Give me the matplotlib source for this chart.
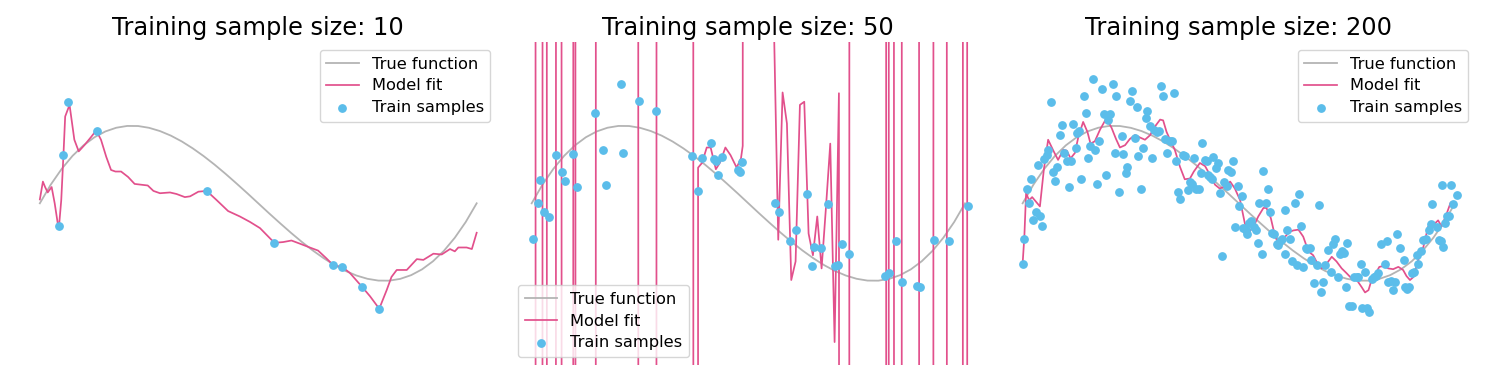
import matplotlib.pyplot as plt
import numpy as np

# true function
true_x = [0.0, 0.025, 0.05, 0.075, 0.1, 0.125, 0.15, 0.175, 0.2, 0.225, 0.25,
          0.275, 0.3, 0.325, 0.35, 0.375, 0.4, 0.425, 0.45, 0.475, 0.5,
          0.525, 0.55, 0.575, 0.6, 0.625, 0.65, 0.675, 0.7, 0.725, 0.75,
          0.775, 0.8, 0.825, 0.85, 0.875, 0.9, 0.925, 0.95, 0.975, 1.0]
true_y = [0.0, 0.241, 0.444, 0.613, 0.748, 0.852, 0.927, 0.975, 0.998, 0.997, 0.974,
          0.932, 0.873, 0.798, 0.709, 0.609, 0.499, 0.381, 0.257, 0.130, 0.0,
          -0.130, -0.257, -0.381, -0.499, -0.609, -0.709, -0.798, -0.873, -0.932, -0.974,
          -0.997, -0.998, -0.975, -0.927, -0.852, -0.748, -0.613, -0.444, -0.241, 0.0]

sample_sizes = [10, 50, 200]

# --- sample size 10 ---
train10_x = [0.065, 0.130, 0.053, 0.044, 0.382, 0.537, 0.672, 0.692, 0.738, 0.777]
train10_y = [1.31, 0.93, 0.62, -0.29, 0.16, -0.51, -0.80, -0.82, -1.08, -1.36]
fit10_x = [0.0, 0.007, 0.012, 0.018, 0.027, 0.034, 0.041, 0.044, 0.049, 0.054,
           0.058, 0.068, 0.079, 0.089, 0.102, 0.118, 0.129, 0.140, 0.152, 0.163,
           0.173, 0.186, 0.202, 0.217, 0.232, 0.247, 0.260, 0.275, 0.298, 0.313,
           0.332, 0.344, 0.363, 0.382, 0.405, 0.431, 0.458, 0.481, 0.504, 0.537,
           0.557, 0.576, 0.595, 0.618, 0.637, 0.656, 0.672, 0.692, 0.710, 0.738,
           0.756, 0.777, 0.794, 0.805, 0.817, 0.840, 0.863, 0.878, 0.901, 0.920,
           0.939, 0.950, 0.958, 0.977, 0.989, 1.0]
fit10_y = [0.05, 0.28, 0.21, 0.14, 0.21, 0.00, -0.26, -0.29, 0.04, 0.62,
           1.12, 1.27, 0.82, 0.67, 0.75, 0.86, 0.94, 0.82, 0.60, 0.43,
           0.41, 0.41, 0.34, 0.25, 0.24, 0.23, 0.16, 0.13, 0.14, 0.12,
           0.08, 0.09, 0.15, 0.16, 0.04, -0.10, -0.17, -0.24, -0.32, -0.51,
           -0.50, -0.48, -0.52, -0.57, -0.61, -0.71, -0.80, -0.82, -0.90, -1.08,
           -1.20, -1.36, -1.12, -0.95, -0.86, -0.86, -0.72, -0.73, -0.65, -0.66,
           -0.59, -0.62, -0.57, -0.57, -0.59, -0.38]

# --- sample size 50 ---
train50_x = [0.004, 0.014, 0.019, 0.029, 0.041, 0.055, 0.069, 0.077, 0.095, 0.105,
             0.146, 0.165, 0.171, 0.206, 0.211, 0.247, 0.288, 0.369, 0.384, 0.394,
             0.413, 0.420, 0.425, 0.429, 0.440, 0.475, 0.481, 0.485, 0.561, 0.571,
             0.596, 0.610, 0.636, 0.646, 0.652, 0.668, 0.683, 0.700, 0.708, 0.717,
             0.733, 0.815, 0.825, 0.840, 0.855, 0.890, 0.895, 0.929, 0.962, 1.006]
train50_y = [-0.46, 0.00, 0.30, -0.11, -0.18, 0.62, 0.41, 0.29, 0.64, 0.21,
             1.16, 0.69, 0.24, 1.54, 0.65, 1.32, 1.19, 0.61, 0.16, 0.58,
             0.78, 0.57, 0.55, 0.37, 0.60, 0.43, 0.40, 0.53, 0.01, -0.11,
             -0.48, -0.35, 0.12, -0.81, -0.56, -0.58, -0.01, -0.81, -0.80, -0.53,
             -0.65, -0.94, -0.90, -0.49, -1.02, -1.07, -1.08, -0.47, -0.49, -0.04]
# the fit shoots far off the plot (+/-40) between the visible stretches
fit50_x = [0.000, 0.008, 0.010, 0.024, 0.026, 0.034, 0.036, 0.055, 0.057, 0.068,
           0.070, 0.095, 0.097, 0.100, 0.102, 0.147, 0.149, 0.245, 0.247, 0.287,
           0.289, 0.372, 0.374, 0.383, 0.384, 0.393, 0.404, 0.413, 0.425, 0.435,
           0.447, 0.459, 0.473, 0.483, 0.487, 0.490, 0.549, 0.559, 0.569, 0.579,
           0.589, 0.599, 0.609, 0.619, 0.629, 0.639, 0.649, 0.659, 0.669, 0.679,
           0.689, 0.699, 0.709, 0.712, 0.732, 0.734, 0.817, 0.819, 0.823, 0.825,
           0.835, 0.837, 0.853, 0.855, 0.893, 0.895, 0.926, 0.928, 0.957, 0.959,
           0.994, 0.996, 1.004, 1.006]
fit50_y = [40, 40, -40, -40, 40, 40, -40, -40, 40, 40,
           -40, -40, 40, 40, -40, -40, 40, 40, -40, -40,
           40, 40, -40, -40, 0.46, 0.52, 0.72, 0.72, 0.44, 0.53,
           0.72, 0.62, 0.46, 0.58, 0.74, 40, 40, 2.3, -0.47, 1.43,
           1.03, -0.99, -0.75, 1.27, 1.31, -0.39, -0.67, -0.17, -0.84, -0.06,
           0.77, -1.79, 1.42, -40, -40, 40, 40, -40, -40, 40,
           40, -40, -40, 40, 40, -40, -40, 40, 40, -40,
           -40, 40, 40, -40]

# --- sample size 200 ---
train200_x = [0.000, 0.004, 0.009, 0.015, 0.019, 0.025, 0.030, 0.036, 0.040, 0.044,
              0.050, 0.056, 0.059, 0.065, 0.071, 0.075, 0.080, 0.086, 0.090, 0.096,
              0.102, 0.107, 0.112, 0.117, 0.123, 0.126, 0.131, 0.136, 0.142, 0.146,
              0.152, 0.156, 0.162, 0.167, 0.173, 0.177, 0.183, 0.188, 0.193, 0.197,
              0.202, 0.208, 0.214, 0.217, 0.223, 0.229, 0.233, 0.238, 0.242, 0.248,
              0.253, 0.259, 0.264, 0.268, 0.274, 0.279, 0.285, 0.288, 0.295, 0.299,
              0.305, 0.310, 0.315, 0.319, 0.324, 0.330, 0.335, 0.341, 0.345, 0.349,
              0.355, 0.360, 0.365, 0.370, 0.376, 0.383, 0.386, 0.391, 0.396, 0.402,
              0.408, 0.412, 0.416, 0.421, 0.426, 0.429, 0.433, 0.437, 0.441, 0.447,
              0.453, 0.456, 0.462, 0.466, 0.472, 0.476, 0.482, 0.487, 0.491, 0.497,
              0.501, 0.507, 0.510, 0.516, 0.520, 0.524, 0.529, 0.534, 0.539, 0.544,
              0.547, 0.554, 0.557, 0.562, 0.567, 0.572, 0.577, 0.581, 0.588, 0.591,
              0.595, 0.601, 0.607, 0.608, 0.612, 0.618, 0.624, 0.629, 0.634, 0.639,
              0.644, 0.649, 0.655, 0.658, 0.665, 0.668, 0.675, 0.680, 0.685, 0.690,
              0.694, 0.699, 0.706, 0.713, 0.719, 0.722, 0.730, 0.734, 0.738, 0.744,
              0.747, 0.751, 0.755, 0.761, 0.767, 0.773, 0.776, 0.782, 0.786, 0.792,
              0.796, 0.802, 0.807, 0.813, 0.817, 0.823, 0.830, 0.837, 0.842, 0.846,
              0.851, 0.857, 0.861, 0.867, 0.873, 0.881, 0.884, 0.888, 0.894, 0.901,
              0.906, 0.911, 0.915, 0.921, 0.927, 0.933, 0.939, 0.944, 0.948, 0.958,
              0.963, 0.967, 0.973, 0.978, 0.982, 0.987, 0.969, 0.990, 0.996, 1.004]
train200_y = [-0.78, -0.46, 0.18, 0.00, 0.31, -0.22, -0.11, 0.50, -0.17, -0.29,
              0.57, 0.62, 0.69, 1.31, 0.41, 0.29, 0.47, 0.88, 1.01, 0.65,
              0.54, 0.21, 0.54, 1.02, 0.71, 0.91, 0.93, 0.31, 1.38, 1.16,
              0.58, 0.74, 1.60, 0.69, 0.25, 0.81, 1.47, 1.15, 0.37, 1.08,
              1.15, 1.54, 0.65, 1.38, 0.15, 0.87, 0.64, 0.39, 0.47, 1.32,
              1.45, 0.84, 1.24, 0.61, 0.18, 0.71, 1.10, 1.19, 1.00, 0.58,
              0.94, 0.92, 0.93, 1.51, 1.38, 0.83, 0.65, 0.80, 0.80, 1.42,
              0.55, 0.15, 0.05, 0.62, 0.61, 0.17, 0.27, 0.25, 0.58, 0.19,
              0.18, 0.39, 0.78, 0.56, 0.54, 0.37, 0.34, 0.31, 0.60, 0.45,
              0.52, 0.13, -0.68, 0.27, 0.22, 0.43, 0.40, 0.54, -0.30, 0.22,
              -0.03, 0.09, -0.32, -0.35, -0.40, -0.25, -0.23, -0.30, -0.35, -0.51,
              0.01, -0.65, 0.42, 0.01, 0.18, -0.11, -0.38, -0.40, -0.52, -0.54,
              -0.49, -0.46, -0.66, -0.09, -0.35, -0.46, -0.74, 0.01, -0.80, 0.12,
              -0.29, -0.82, -0.58, -0.59, -0.58, -0.73, -1.03, -0.80, -0.02, -1.15,
              -1.01, -0.80, -0.60, -0.88, -0.53, -0.46, -0.95, -0.65, -0.62, -0.64,
              -1.08, -0.51, -1.32, -1.32, -0.95, -0.95, -0.95, -0.78, -1.35, -0.89,
              -1.35, -1.40, -0.98, -0.95, -0.94, -0.90, -0.52, -0.78, -0.49, -1.02,
              -1.00, -1.12, -1.02, -0.40, -0.58, -0.73, -1.08, -1.10, -1.08, -0.90,
              -0.88, -0.67, -0.78, -0.62, -0.47, -0.46, -0.34, -0.27, -0.01, -0.31,
              -0.47, -0.49, -0.56, -0.26, -0.17, -0.16, 0.24, 0.24, -0.01, 0.11]
fit200_x = [0.000, 0.004, 0.008, 0.015, 0.022, 0.031, 0.040, 0.049, 0.059, 0.071,
            0.082, 0.094, 0.102, 0.111, 0.121, 0.129, 0.140, 0.150, 0.157, 0.167,
            0.179, 0.194, 0.206, 0.216, 0.225, 0.237, 0.248, 0.260, 0.271, 0.283,
            0.295, 0.306, 0.318, 0.325, 0.333, 0.341, 0.352, 0.364, 0.375, 0.387,
            0.396, 0.410, 0.422, 0.433, 0.445, 0.456, 0.468, 0.480, 0.491, 0.503,
            0.514, 0.524, 0.534, 0.545, 0.557, 0.564, 0.574, 0.584, 0.594, 0.604,
            0.617, 0.626, 0.638, 0.649, 0.661, 0.672, 0.684, 0.692, 0.703, 0.715,
            0.726, 0.738, 0.749, 0.761, 0.773, 0.784, 0.792, 0.800, 0.807, 0.817,
            0.825, 0.834, 0.846, 0.857, 0.869, 0.880, 0.888, 0.896, 0.904, 0.915,
            0.927, 0.938, 0.950, 0.961, 0.969, 0.981, 0.990, 1.000]
fit200_y = [-0.78, -0.43, 0.13, 0.04, 0.08, 0.02, -0.04, 0.43, 0.82, 0.68,
            0.56, 0.69, 0.68, 0.58, 0.65, 0.86, 1.05, 0.92, 0.77, 0.80,
            0.95, 1.10, 0.97, 0.83, 0.72, 0.75, 0.83, 0.88, 0.85, 0.82,
            0.88, 0.99, 1.08, 1.07, 0.92, 0.82, 0.69, 0.47, 0.31, 0.32,
            0.41, 0.52, 0.48, 0.37, 0.24, 0.19, 0.22, 0.28, 0.19, 0.04,
            -0.26, -0.37, -0.30, -0.17, -0.06, -0.06, -0.19, -0.43, -0.54, -0.45,
            -0.37, -0.35, -0.34, -0.43, -0.62, -0.67, -0.80, -0.84, -0.78, -0.69,
            -0.75, -0.84, -0.90, -0.97, -0.99, -1.08, -1.15, -1.12, -0.99, -0.90,
            -0.82, -0.81, -0.84, -0.85, -0.82, -0.86, -0.94, -0.99, -0.95, -0.73,
            -0.56, -0.30, -0.28, -0.22, -0.30, -0.13, 0.01, -0.04]

panels = [
    (train10_x, train10_y, fit10_x, fit10_y, 'upper right'),
    (train50_x, train50_y, fit50_x, fit50_y, 'lower left'),
    (train200_x, train200_y, fit200_x, fit200_y, 'upper right'),
]

W, H = 1496, 390
fig = plt.figure(figsize=(W / 100, H / 100), dpi=100)

# axes boxes in pixels (left, width); all share top 42 / bottom 365
boxes = [(18, 480.5), (510, 476.7), (1001, 475.6)]
top_px, bot_px = 42, 365

for (tx, ty, fx, fy, loc), n, (left, width) in zip(panels, sample_sizes, boxes):
    ax = fig.add_axes([left / W, (H - bot_px) / H, width / W, (bot_px - top_px) / H])
    ax.plot(true_x, true_y, color='#b4b4b4', lw=1.3, label='True function')
    ax.plot(fx, fy, color='#e2508c', lw=1.25, label='Model fit')
    ax.scatter(tx, ty, s=28, color='#5bbdea', zorder=3, label='Train samples')
    ax.set_xlim(-0.05, 1.05)
    ax.set_ylim(-2.086, 2.081)
    ax.axis('off')
    ax.set_title('Training sample size: %d' % n, fontsize=17.4, pad=5)
    ax.legend(loc=loc, fontsize=11.7, labelspacing=0.42, scatterpoints=1)

fig.savefig('out.png', dpi=100)
